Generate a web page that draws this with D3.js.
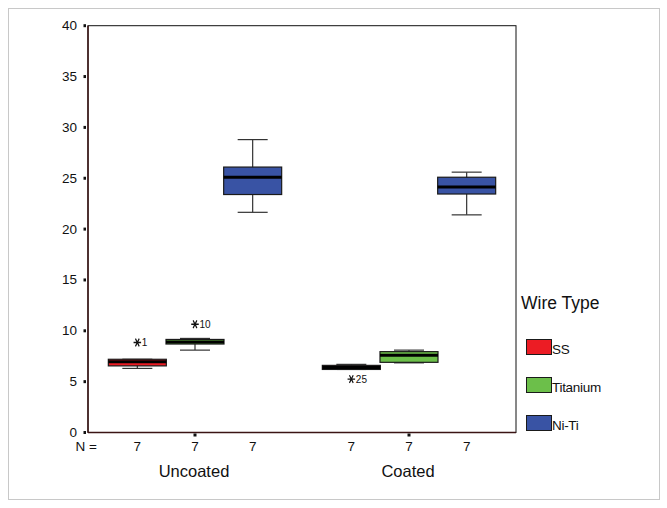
<!DOCTYPE html>
<html>
<head>
<meta charset="utf-8">
<script src="https://cdn.jsdelivr.net/npm/d3@7"></script>
<style>
  body { margin: 0; background: #fff; }
  text { font-family: Arial, "Liberation Sans", sans-serif; fill: #111; }
</style>
</head>
<body>
<script>
// data
var groups = ["Uncoated", "Coated"];
var wires = ["SS", "Titanium", "Ni-Ti"];
var colors = ["#ec1c24", "#6cbf4a", "#3953a4"];
var yTicks = [0, 5, 10, 15, 20, 25, 30, 35, 40];
// per group, per wire: [lowWhisker, q1, median, q3, highWhisker]
var uncoatedStats = [
  [6.3, 6.55, 6.95, 7.2, 7.2],
  [8.1, 8.7, 8.9, 9.15, 9.25],
  [21.65, 23.4, 25.1, 26.1, 28.8]
];
var coatedStats = [
  [6.2, 6.2, 6.4, 6.6, 6.7],
  [6.85, 6.9, 7.6, 7.95, 8.1],
  [21.4, 23.45, 24.15, 25.1, 25.6]
];
var nCounts = [[7, 7, 7], [7, 7, 7]];
// outliers: [group, wire, value, label]
var outliers = [
  [0, 0, 8.85, "1"],
  [0, 1, 10.65, "10"],
  [1, 0, 5.25, "25"]
];

var W = 667, H = 508;
var svg = d3.select("body").append("svg")
  .attr("width", W)
  .attr("height", H);

// outer grey border
svg.append("rect")
  .attr("x", 8.5).attr("y", 8.5)
  .attr("width", 651).attr("height", 491)
  .attr("fill", "none")
  .attr("stroke", "#c8c8c8");

var plotL = 88, plotR = 516, plotT = 25.7, plotB = 432.5;

var y = d3.scaleLinear().domain([0, 40]).range([plotB, plotT]);
var x = d3.scaleBand().domain(groups).range([plotL, plotR]);
var xs = d3.scaleBand().domain(wires).range([-86.5, 86.5]);

// frame
svg.append("rect")
  .attr("x", plotL).attr("y", plotT)
  .attr("width", plotR - plotL).attr("height", plotB - plotT)
  .attr("fill", "none")
  .attr("stroke", "#111");
svg.append("line")
  .attr("x1", plotL).attr("x2", plotL).attr("y1", plotT).attr("y2", plotB)
  .attr("stroke", "#3b1414").attr("stroke-width", 1.5);
svg.append("line")
  .attr("x1", plotL).attr("x2", plotR).attr("y1", plotB).attr("y2", plotB)
  .attr("stroke", "#3b1414").attr("stroke-width", 1.5);

// y ticks
svg.selectAll(".ytick").data(yTicks).enter().append("rect")
  .attr("x", 83.5).attr("y", function(d) { return y(d) - 1.5; })
  .attr("width", 2.5).attr("height", 3)
  .attr("fill", "#111");
svg.selectAll(".ylab").data(yTicks).enter().append("text")
  .attr("x", 77).attr("y", function(d) { return y(d) + 4.5; })
  .attr("text-anchor", "end")
  .attr("font-size", 13.5)
  .text(function(d) { return d; });

// x ticks
svg.selectAll(".xtick").data(groups).enter().append("rect")
  .attr("x", function(d) { return x(d) + x.bandwidth() / 2 - 1.5; })
  .attr("y", plotB + 1).attr("width", 3).attr("height", 3)
  .attr("fill", "#111");

// N = row
svg.append("text")
  .attr("x", 97).attr("y", 451)
  .attr("text-anchor", "end")
  .attr("font-size", 13.5)
  .text("N =");

var star = d3.symbol().type(d3.symbolAsterisk).size(55);

var allStats = [uncoatedStats, coatedStats];
groups.forEach(function(g, gi) {
  var cx0 = x(g) + x.bandwidth() / 2;
  var g0 = svg.append("g");
  wires.forEach(function(w, wi) {
    var s = allStats[gi][wi];
    var cx = cx0 + xs(w) + xs.bandwidth() / 2;
    var bw = 58, cw = 30;
    // whisker stems
    g0.append("line")
      .attr("x1", cx).attr("x2", cx)
      .attr("y1", y(s[0])).attr("y2", y(s[4]))
      .attr("stroke", "#333").attr("stroke-width", 1.2);
    // caps
    [s[0], s[4]].forEach(function(v) {
      g0.append("line")
        .attr("x1", cx - cw / 2).attr("x2", cx + cw / 2)
        .attr("y1", y(v)).attr("y2", y(v))
        .attr("stroke", "#333").attr("stroke-width", 1.2);
    });
    // box
    g0.append("rect")
      .attr("x", cx - bw / 2).attr("y", y(s[3]))
      .attr("width", bw).attr("height", y(s[1]) - y(s[3]))
      .attr("fill", colors[wi])
      .attr("stroke", "#1a1a1a").attr("stroke-width", 1.2);
    // median
    g0.append("line")
      .attr("x1", cx - bw / 2).attr("x2", cx + bw / 2)
      .attr("y1", y(s[2])).attr("y2", y(s[2]))
      .attr("stroke", "#000").attr("stroke-width", 3);
    // N label
    g0.append("text")
      .attr("x", cx).attr("y", 451)
      .attr("text-anchor", "middle")
      .attr("font-size", 13.5)
      .text(nCounts[gi][wi]);
  });
  svg.append("text")
    .attr("x", cx0 - 1).attr("y", 477)
    .attr("text-anchor", "middle")
    .attr("font-size", 16.5)
    .text(g);
});

// outliers
outliers.forEach(function(o) {
  var cx = x(groups[o[0]]) + x.bandwidth() / 2 + xs(wires[o[1]]) + xs.bandwidth() / 2;
  var cy = y(o[2]);
  svg.append("path")
    .attr("d", star)
    .attr("transform", "translate(" + cx + "," + cy + ") rotate(90) scale(1,0.85)")
    .attr("fill", "none")
    .attr("stroke", "#111")
    .attr("stroke-width", 1.4);
  svg.append("text")
    .attr("x", cx + 4.5).attr("y", cy + 4)
    .attr("font-size", 10)
    .text(o[3]);
});

// legend
svg.append("text")
  .attr("x", 521).attr("y", 309)
  .attr("font-size", 17.5)
  .text("Wire Type");
wires.forEach(function(w, i) {
  var ly = 339 + i * 38;
  svg.append("rect")
    .attr("x", 526.5).attr("y", ly + 0.5)
    .attr("width", 25).attr("height", 15)
    .attr("fill", colors[i])
    .attr("stroke", "#1a1a1a");
  svg.append("text")
    .attr("x", 552).attr("y", ly + 15)
    .attr("font-size", 13.5)
    .attr("letter-spacing", -0.3)
    .text(w);
});
</script>
</body>
</html>
